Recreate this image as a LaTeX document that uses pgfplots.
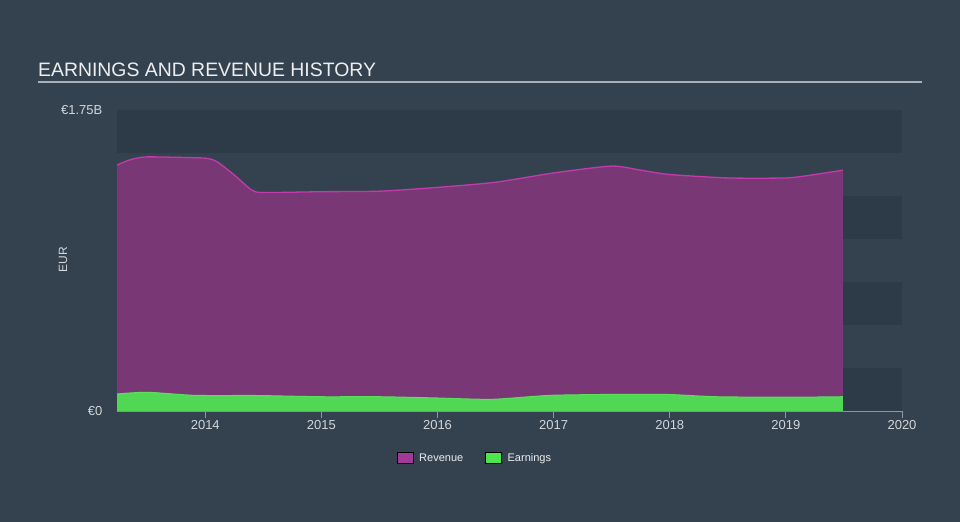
\documentclass[border=0pt]{standalone}
\usepackage{pgfplots}
\pgfplotsset{compat=1.18}
\usepackage{fontspec}
\setmainfont{Liberation Sans}
\definecolor{bg}{HTML}{34424F}
\definecolor{band}{HTML}{2D3A48}
\definecolor{revfill}{HTML}{7A3775}
\definecolor{revline}{HTML}{C23BAB}
\definecolor{earnfill}{HTML}{50D754}
\definecolor{earnline}{HTML}{5BE05C}
\definecolor{legrev}{HTML}{A03A98}
\definecolor{legearn}{HTML}{4EE54C}
\definecolor{tickc}{HTML}{D2D6DA}
\definecolor{titlec}{HTML}{ECEEF0}
\definecolor{rulec}{HTML}{A9B0B8}
\definecolor{axc}{HTML}{8E98A3}
\begin{document}
\begin{tikzpicture}
\path[use as bounding box, fill=bg] (-117bp,-111bp) rectangle (843bp,411bp);
\node[anchor=base west, inner sep=0pt, text=titlec, font=\fontsize{19.4bp}{22bp}\selectfont] at (-79bp,334bp) {EARNINGS AND REVENUE HISTORY};
\draw[rulec, line width=1.5bp] (-79bp,329bp) -- (805bp,329bp);
\node[rotate=90, text=tickc, font=\fontsize{12bp}{14bp}\selectfont, inner sep=0pt] at (-54bp,151bp) {EUR};
\begin{axis}[
  at={(0,0)}, anchor=south west,
  scale only axis, width=785bp, height=301bp,
  xmin=2013.24, xmax=2020, ymin=0, ymax=1.75,
  axis x line=bottom, axis y line=left,
  x axis line style={draw=axc, line width=1bp, -},
  y axis line style={draw=none},
  xtick={2014,2015,2016,2017,2018,2019,2020},
  xticklabels={2014,2015,2016,2017,2018,2019,2020},
  ytick={0,1.75},
  yticklabels={€0,€1.75B},
  xtick align=outside,
  major tick length=7bp,
  x tick style={draw=axc, line width=1bp},
  y tick style={draw=none},
  tick label style={text=tickc, font=\fontsize{13bp}{15bp}\selectfont},
  xticklabel style={anchor=north, inner sep=0pt, yshift=-2.5bp},
  yticklabel style={anchor=east, inner sep=0pt, xshift=-11bp},
  clip=false,
  legend style={draw=none, fill=none, at={(axis description cs:0.456,0)}, anchor=center, yshift=-47bp, legend columns=2, text=titlec, font=\fontsize{11bp}{13bp}\selectfont, /tikz/every even column/.append style={column sep=20bp}, /tikz/every odd column/.append style={column sep=4bp}},
  legend image code/.code={\fill[#1] (0bp,-5.5bp) rectangle (16bp,5.5bp);},
]
\fill[band] (axis cs:2013.24,0) rectangle (axis cs:2020,0.25);
\fill[band] (axis cs:2013.24,0.5) rectangle (axis cs:2020,0.75);
\fill[band] (axis cs:2013.24,1.0) rectangle (axis cs:2020,1.25);
\fill[band] (axis cs:2013.24,1.5) rectangle (axis cs:2020,1.75);
\addplot[forget plot, fill=revfill, draw=none, smooth, tension=0.4] coordinates {
(2013.24,1.43) (2013.35,1.46) (2013.48,1.477) (2013.75,1.475) (2014.0,1.47) (2014.1,1.45) (2014.25,1.372) (2014.4,1.285) (2014.5,1.27) (2015.0,1.275) (2015.5,1.278) (2016.0,1.30) (2016.5,1.33) (2017.0,1.384) (2017.5,1.424) (2017.75,1.40) (2018.0,1.375) (2018.5,1.355) (2019.0,1.355) (2019.2,1.37) (2019.49,1.40)
} \closedcycle;
\addplot[forget plot, draw=revline, line width=1.3bp, smooth, tension=0.4] coordinates {
(2013.24,1.43) (2013.35,1.46) (2013.48,1.477) (2013.75,1.475) (2014.0,1.47) (2014.1,1.45) (2014.25,1.372) (2014.4,1.285) (2014.5,1.27) (2015.0,1.275) (2015.5,1.278) (2016.0,1.30) (2016.5,1.33) (2017.0,1.384) (2017.5,1.424) (2017.75,1.40) (2018.0,1.375) (2018.5,1.355) (2019.0,1.355) (2019.2,1.37) (2019.49,1.40)
};
\addplot[forget plot, fill=earnfill, draw=none, smooth, tension=0.4] coordinates {
(2013.24,0.099) (2013.5,0.109) (2013.91,0.091) (2014.45,0.090) (2014.99,0.083) (2015.5,0.083) (2015.98,0.076) (2016.47,0.068) (2016.97,0.091) (2017.59,0.097) (2017.99,0.096) (2018.4,0.083) (2019.0,0.080) (2019.49,0.083)
} \closedcycle;
\addplot[forget plot, draw=earnline, line width=1bp, smooth, tension=0.4] coordinates {
(2013.24,0.099) (2013.5,0.109) (2013.91,0.091) (2014.45,0.090) (2014.99,0.083) (2015.5,0.083) (2015.98,0.076) (2016.47,0.068) (2016.97,0.091) (2017.59,0.097) (2017.99,0.096) (2018.4,0.083) (2019.0,0.080) (2019.49,0.083)
};
\addlegendimage{fill=legrev}
\addlegendentry{Revenue}
\addlegendimage{fill=legearn}
\addlegendentry{Earnings}
\end{axis}
\end{tikzpicture}
\end{document}
